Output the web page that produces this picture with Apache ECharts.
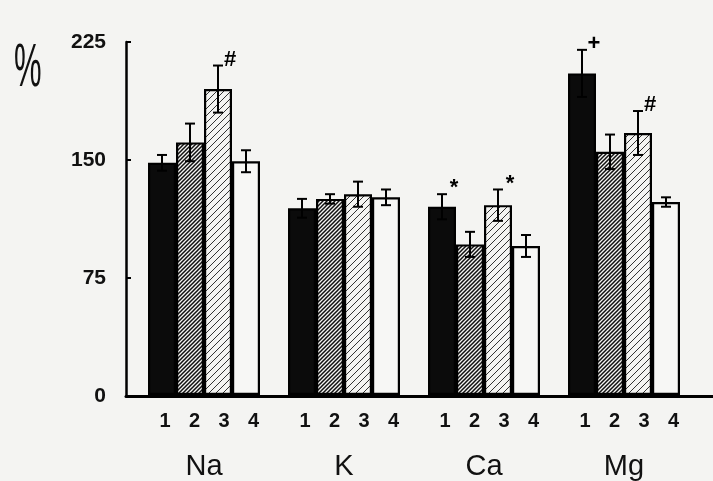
<!DOCTYPE html>
<html>
<head>
    <meta charset="utf-8">
    <title>Na K Ca Mg</title>
    <script src="https://cdn.jsdelivr.net/npm/echarts@6/dist/echarts.min.js"></script>
    <style>
        html, body { margin: 0; padding: 0; background: #f4f4f2; }
    </style>
</head>
<body>
    <div id="main" style="width: 713px;height:481px;"></div>
    <script type="text/javascript">
        // groups and bars 1..4
        var groups = ['Na', 'K', 'Ca', 'Mg'];
        var barNames = ['1', '2', '3', '4'];
        var yTicks = [0, 75, 150, 225];

        var vals1 = [148, 119, 120, 205];
        var vals2 = [161, 125, 96, 155];
        var vals3 = [195, 128, 121, 167];
        var vals4 = [149, 126, 95, 123];

        var errs1 = [5, 6, 8, 15];
        var errs2 = [12, 3, 8, 11];
        var errs3 = [15, 8, 10, 14];
        var errs4 = [7, 5, 7, 3];

        // significance marks over the error bars
        var marks1 = ['', '', '*', '+'];
        var marks2 = ['', '', '', ''];
        var marks3 = ['#', '', '*', '#'];
        var marks4 = ['', '', '', ''];

        var values = [vals1, vals2, vals3, vals4];
        var errors = [errs1, errs2, errs3, errs4];
        var marks = [marks1, marks2, marks3, marks4];

        var barW = 28;

        // hatch tiles
        function hatch(step, lw, color) {
            var c = document.createElement('canvas');
            c.width = step; c.height = step;
            var ctx = c.getContext('2d');
            ctx.fillStyle = '#f4f4f2';
            ctx.fillRect(0, 0, step, step);
            ctx.strokeStyle = color;
            ctx.lineWidth = lw;
            ctx.beginPath();
            ctx.moveTo(-1, step + 1); ctx.lineTo(step + 1, -1);
            ctx.moveTo(-1, 1); ctx.lineTo(1, -1);
            ctx.moveTo(step - 1, step + 1); ctx.lineTo(step + 1, step - 1);
            ctx.stroke();
            return { image: c, repeat: 'repeat' };
        }

        var fills = [
            '#0b0b0b',
            hatch(4, 1.5, '#111'),
            hatch(7, 1, '#333'),
            '#f7f7f5'
        ];

        var series = [];
        for (var i = 0; i < 4; i++) {
            series.push({
                name: barNames[i],
                type: 'bar',
                xAxisIndex: 0,
                yAxisIndex: 0,
                barWidth: barW,
                barGap: '0%',
                data: values[i],
                itemStyle: { color: fills[i], borderColor: '#000', borderWidth: 2.2 },
                label: {
                    show: true,
                    position: 'bottom',
                    distance: 16,
                    offset: [3 + i * 1.5, 0],
                    formatter: barNames[i],
                    color: '#111',
                    fontSize: 20,
                    fontWeight: 'bold',
                    fontFamily: 'Liberation Sans'
                },
                z: 2
            });
        }

        // error bars with caps
        for (var k = 0; k < 4; k++) {
            (function (idx) {
                var d = [];
                for (var j = 0; j < groups.length; j++) {
                    d.push([j, values[idx][j], errors[idx][j]]);
                }
                series.push({
                    type: 'custom',
                    xAxisIndex: 0,
                    yAxisIndex: 0,
                    data: d,
                    z: 5,
                    renderItem: function (params, api) {
                        var c = api.value(0), v = api.value(1), e = api.value(2);
                        var off = (idx - 1.5) * barW;
                        var top = api.coord([c, v + e]);
                        var bot = api.coord([c, v - e]);
                        var x = top[0] + off;
                        var cap = 5;
                        var st = { stroke: '#000', lineWidth: 2 };
                        var kids = [
                            { type: 'line', shape: { x1: x, y1: top[1], x2: x, y2: bot[1] }, style: st },
                            { type: 'line', shape: { x1: x - cap, y1: top[1], x2: x + cap, y2: top[1] }, style: st },
                            { type: 'line', shape: { x1: x - cap, y1: bot[1], x2: x + cap, y2: bot[1] }, style: st }
                        ];
                        var m = marks[idx][c];
                        if (m) {
                            kids.push({
                                type: 'text',
                                x: x + 12, y: top[1] - 6,
                                style: {
                                    text: m, fill: '#000', fontSize: 22, fontWeight: 'bold',
                                    fontFamily: 'Liberation Sans', align: 'center', verticalAlign: 'middle'
                                }
                            });
                        }
                        return { type: 'group', children: kids };
                    }
                });
            })(k);
        }

        // frame axes (extend from the y axis line to the right edge)
        series.push({
            type: 'line',
            xAxisIndex: 1,
            yAxisIndex: 1,
            data: [],
            silent: true
        });

        var myChart = echarts.init(document.getElementById('main'));
        myChart.setOption({
            backgroundColor: '#f4f4f2',
            animation: false,
            graphic: [{
                type: 'text',
                left: 14,
                top: 38,
                scaleX: 0.5,
                style: {
                    text: '%',
                    fill: '#111',
                    font: 'normal 62px "Liberation Sans"'
                }
            }],
            grid: [
                { left: 134, right: 19, top: 42, bottom: 85 },
                { left: 126, right: 0, top: 42, bottom: 85 }
            ],
            xAxis: [
                {
                    type: 'category',
                    gridIndex: 0,
                    data: groups,
                    axisLine: { show: false },
                    axisTick: { show: false },
                    axisLabel: {
                        margin: 57,
                        fontSize: 29,
                        color: '#111',
                        fontFamily: 'Liberation Sans'
                    }
                },
                {
                    type: 'value',
                    gridIndex: 1,
                    min: 0,
                    max: 1,
                    axisLine: { show: true, lineStyle: { color: '#000', width: 3 } },
                    axisTick: { show: false },
                    axisLabel: { show: false },
                    splitLine: { show: false }
                }
            ],
            yAxis: [
                {
                    type: 'value',
                    gridIndex: 0,
                    min: yTicks[0],
                    max: yTicks[yTicks.length - 1],
                    interval: 75,
                    show: false
                },
                {
                    type: 'value',
                    gridIndex: 1,
                    min: yTicks[0],
                    max: yTicks[yTicks.length - 1],
                    interval: 75,
                    axisLine: { show: true, lineStyle: { color: '#000', width: 2.5 } },
                    axisTick: { show: true, inside: true, length: 5, lineStyle: { color: '#000', width: 2 } },
                    axisLabel: {
                        margin: 20,
                        fontSize: 21,
                        fontWeight: 'bold',
                        color: '#111',
                        fontFamily: 'Liberation Sans'
                    },
                    splitLine: { show: false }
                }
            ],
            series: series
        });
    </script>
</body>
</html>
